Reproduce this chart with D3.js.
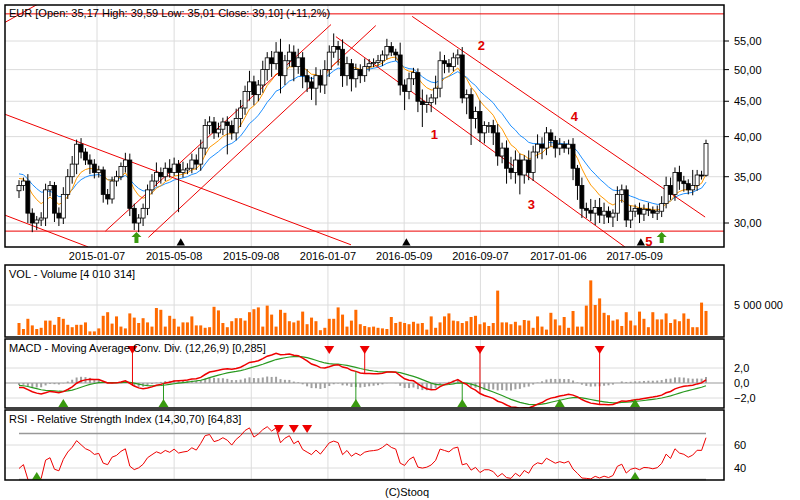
<!DOCTYPE html>
<html>
<head>
<meta charset="utf-8">
<script src="https://cdn.jsdelivr.net/npm/d3@7"></script>
<style>
body { margin: 0; background: #fff; }
text { font-family: "Liberation Sans", Arial, sans-serif; font-size: 11px; }
</style>
</head>
<body>
<div class="draw"></div>
<script>
// weekly closes
const closes = [
  34.0, 34.5, 31.0, 30.0, 30.3, 30.5, 33.5, 34.0, 31.0, 30.5,
  33.0, 35.0, 36.5, 39.0, 38.0, 37.0, 36.5, 35.5, 35.8, 33.0,
  32.5, 34.5, 35.0, 36.2, 37.0, 31.5, 30.0, 30.5, 31.5, 33.5,
  34.5, 35.5, 35.0, 36.0, 35.5, 36.5, 35.5, 35.8, 36.0, 37.0,
  36.5, 38.5, 41.5, 42.0, 40.5, 41.0, 42.0, 41.5, 40.5, 42.5,
  44.0, 46.5, 48.0, 46.0, 47.5, 50.0, 52.0, 51.0, 53.0, 49.0,
  51.5, 53.0, 50.5, 52.0, 49.0, 48.0, 47.0, 49.0, 47.5, 50.0,
  53.0, 54.0, 53.5, 49.0, 51.0, 48.5, 50.0, 49.0, 50.5, 51.0,
  51.2, 51.5, 52.5, 54.0, 53.0, 52.5, 47.5, 46.5, 48.5, 49.5,
  45.0, 44.5, 44.8, 45.5, 47.0, 51.5, 51.0, 50.5, 52.0, 52.5,
  45.5, 46.0, 42.5, 43.5, 40.5, 41.5, 41.5, 40.5, 37.5, 38.5,
  36.0, 35.5, 37.0, 35.2, 37.0, 35.5, 38.0, 39.0, 38.5, 40.5,
  39.5, 38.5, 39.0, 38.5, 39.0, 36.0, 34.0, 31.5, 31.3, 31.0,
  31.6, 30.8, 31.2, 30.6, 31.0, 33.0, 33.5, 30.3, 31.2, 31.5,
  30.9, 31.4, 31.3, 31.0, 31.2, 32.0, 34.0, 33.0, 35.5, 34.5,
  34.2, 33.5, 34.0, 35.2, 35.17, 39.1
];
const wickUp = [
  0.6, 0.4, 0.8, 0.5, 0.4, 0.6, 0.7, 0.5, 0.4, 0.6,
  0.8, 0.9, 1.0, 0.6, 0.8, 0.5, 0.7, 0.6, 0.5, 0.4,
  0.6, 0.5, 0.7, 0.5, 0.9, 0.8, 0.5, 0.4, 0.5, 0.6,
  0.8, 1.2, 0.6, 0.7, 1.1, 0.8, 0.5, 1.0, 0.6, 0.8,
  0.7, 1.1, 0.9, 0.8, 0.7, 0.9, 0.6, 0.8, 0.7, 1.4,
  1.2, 0.9, 1.8, 1.0, 0.8, 1.5, 1.0, 1.2, 1.8, 2.4,
  1.0, 1.4, 1.2, 1.6, 1.0, 1.1, 0.8, 1.4, 1.0, 1.6,
  1.2, 2.4, 1.0, 1.8, 1.2, 0.8, 1.0, 0.9, 1.4, 0.8,
  0.7, 1.0, 0.8, 1.4, 0.8, 0.6, 2.2, 0.9, 1.0, 0.8,
  0.7, 1.8, 1.2, 0.6, 2.0, 1.6, 1.0, 0.8, 0.9, 1.0,
  1.4, 0.8, 1.0, 0.7, 1.6, 0.6, 0.5, 0.8, 1.2, 0.7,
  1.0, 1.4, 1.2, 0.8, 0.6, 1.2, 0.8, 1.3, 0.9, 0.8,
  0.5, 0.6, 0.8, 0.4, 0.6, 0.8, 0.4, 0.9, 0.6, 1.2,
  0.8, 1.0, 0.9, 0.5, 0.4, 0.9, 0.6, 0.5, 0.6, 0.4,
  0.6, 0.5, 0.7, 0.4, 0.6, 0.8, 1.0, 0.9, 0.6, 0.8,
  0.6, 0.5, 1.8, 0.6, 0.5, 0.49
];
const wickDn = [
  0.8, 0.6, 1.0, 0.9, 0.7, 0.6, 0.8, 0.7, 0.9, 0.8,
  0.6, 0.5, 0.8, 1.2, 0.8, 0.6, 1.2, 0.7, 0.6, 0.9,
  0.6, 0.5, 0.6, 0.4, 0.7, 0.8, 0.7, 0.9, 0.8, 0.7,
  0.5, 0.6, 0.8, 0.5, 0.6, 0.4, 4.4, 0.6, 0.5, 0.6,
  0.7, 0.8, 0.9, 1.2, 0.8, 0.6, 0.8, 3.8, 0.9, 1.0,
  1.2, 1.0, 1.4, 1.6, 1.0, 1.2, 1.8, 2.2, 1.0, 2.8,
  1.5, 1.0, 2.4, 1.2, 2.0, 1.6, 1.8, 2.6, 1.2, 1.4,
  1.2, 1.0, 2.8, 1.8, 1.6, 2.0, 1.4, 1.2, 1.0, 0.8,
  0.6, 0.7, 0.9, 0.8, 0.7, 1.0, 1.6, 2.8, 1.2, 1.0,
  1.6, 3.2, 1.2, 1.4, 1.0, 1.4, 1.6, 1.0, 0.8, 1.2,
  0.8, 2.4, 3.6, 1.4, 1.2, 1.4, 1.0, 1.6, 1.2, 0.9,
  1.8, 0.8, 1.3, 2.2, 1.0, 0.9, 1.0, 0.8, 1.4, 0.9,
  0.8, 1.2, 0.9, 0.6, 0.8, 1.4, 1.6, 1.0, 0.8, 0.8,
  1.2, 0.8, 0.9, 0.6, 1.0, 0.8, 0.9, 0.7, 0.8, 0.6,
  0.9, 0.7, 0.6, 0.5, 0.7, 0.6, 0.5, 0.6, 0.7, 1.0,
  0.9, 0.5, 0.6, 0.6, 0.5, 0.16
];
const volumes = [
  2.0, 1.0, 2.7, 1.6, 1.0, 1.2, 2.4, 2.4, 1.7, 3.0,
  2.7, 1.7, 1.3, 1.7, 1.7, 2.1, 0.6, 0.6, 1.1, 3.2,
  3.8, 1.9, 3.1, 1.4, 1.1, 3.6, 2.9, 2.0, 2.8, 2.1,
  1.4, 4.5, 4.2, 1.4, 3.2, 2.7, 1.4, 2.1, 2.1, 3.1,
  1.6, 1.6, 1.2, 1.3, 4.7, 4.1, 2.0, 1.3, 2.3, 2.8,
  2.8, 2.4, 3.8, 4.3, 4.6, 1.4, 4.9, 3.4, 1.4, 4.2,
  3.7, 2.3, 2.1, 2.4, 3.9, 1.8, 2.9, 2.3, 0.8, 1.2,
  2.7, 2.7, 4.6, 3.4, 1.4, 2.4, 4.2, 1.8, 1.5, 1.3,
  1.4, 1.2, 1.1, 1.0, 3.0, 2.0, 2.2, 2.0, 1.8, 2.2,
  1.9, 2.0, 0.9, 3.1, 1.2, 2.1, 3.1, 3.6, 2.4, 2.3,
  2.0, 2.3, 3.0, 3.2, 1.8, 2.1, 1.5, 2.0, 7.4, 2.1,
  2.1, 1.8, 2.2, 1.6, 2.5, 2.4, 1.2, 3.1, 1.4, 0.9,
  3.7, 2.6, 1.6, 3.0, 1.2, 4.0, 1.4, 1.4, 4.9, 9.1,
  5.0, 6.1, 3.7, 3.3, 2.4, 2.6, 1.5, 3.8, 2.4, 1.6,
  3.9, 2.7, 1.3, 3.8, 2.6, 2.6, 3.6, 2.0, 2.6, 2.3,
  3.6, 2.7, 1.3, 1.3, 5.4, 4.01
];
// closes before the first drawn week, only used to seed the indicators
const priorCloses = [36.5, 37.0, 36.8, 36.2, 35.8, 35.5, 35.0, 34.6, 34.2, 34.0];
const dateTicks = ["2015-01-07", "2015-05-08", "2015-09-08", "2016-01-07", "2016-05-09", "2016-09-07", "2017-01-06", "2017-05-09"];
const dateTickIdx = [17.6, 35, 52.4, 69.7, 86.9, 104.1, 121.7, 138.9];
const priceTicks = [30, 35, 40, 45, 50, 55];

// trend lines [idx0, price0, idx1, price1]
const trendLines = [
  [-4, 60.2, 160, 60.2], [-4, 29.2, 160, 29.2],
  [-3.2, 43.1, 74.9, 27.9], [-3.2, 30.8, 15.6, 27.7], [-3.2, 58.5, 4.3, 62.2],
  [19.5, 29.2, 70.4, 58.1], [29.2, 28.6, 80.5, 57.9],
  [71.5, 55.8, 136.7, 27.7], [88.7, 59.7, 154.8, 30.6]
];
const waveLabels = ["1", "2", "3", "4", "5"];
const waveIdx = [93.7, 104.3, 115.6, 125.3, 142.1];
const wavePrice = [40.3, 54.3, 32.0, 42.8, 28.3];
const blackMarks = [36.5, 87.4, 140.3];
const greenArrows = [26.5, 145];
const macdSell = [25.6, 70, 78, 104, 131];
const macdSellLine = [true, false, true, true, true];
const macdBuy = [10, 32.6, 76, 100, 122, 139];
const macdBuyLine = [false, true, true, true, false, false];
const rsiSell = [58.6, 62, 65];
const rsiBuy = [4, 139];

const width = 800, height = 500;
const left = 5, right = 724;
const svg = d3.select("div.draw").append("svg").attr("width", width).attr("height", height);

const x = d3.scaleLinear().domain([0, closes.length - 1]).range([19, 706]);
const opens = closes.map((c, i) => i === 0 ? 33.4 : closes[i - 1]);
opens[closes.length - 1] = 35.17;
const full = priorCloses.concat(closes);
const skip = priorCloses.length;

function ema(arr, n) {
  const k = 2 / (n + 1); let out = []; let prev = arr[0];
  arr.forEach((v, i) => { prev = i === 0 ? v : v * k + prev * (1 - k); out.push(prev) });
  return out;
}

function panel(top, bottom) {
  const g = svg.append("g");
  g.append("clipPath").attr("id", "c" + top).append("rect")
    .attr("x", left).attr("y", top).attr("width", right - left).attr("height", bottom - top);
  dateTickIdx.forEach(t => g.append("line").attr("x1", x(t)).attr("x2", x(t))
    .attr("y1", top).attr("y2", bottom).attr("stroke", "#dcdcdc"));
  return g;
}
function frame(top, bottom, title) {
  svg.append("rect").attr("x", left).attr("y", top).attr("width", right - left).attr("height", bottom - top)
    .attr("fill", "none").attr("stroke", "#000").attr("stroke-width", 1.5);
  if (title) svg.append("text").attr("x", 9).attr("y", top + 13).text(title);
}

// ---------- price panel
const pTop = 5, pBot = 247;
const y = d3.scaleLog().domain([30, 55]).range([223, 41]);
const gp = panel(pTop, pBot);
priceTicks.forEach(p => {
  gp.append("line").attr("x1", left).attr("x2", right).attr("y1", y(p)).attr("y2", y(p)).attr("stroke", "#dcdcdc");
  svg.append("line").attr("x1", right).attr("x2", right + 5).attr("y1", y(p)).attr("y2", y(p)).attr("stroke", "#000");
  svg.append("text").attr("x", 734).attr("y", y(p) + 4).text(d3.format(".2f")(p).replace(".", ","));
});
const clipP = gp.append("g").attr("clip-path", "url(#c" + pTop + ")");
const maLine = d3.line().x((d, i) => x(i)).y(d => y(d));
clipP.append("path").attr("d", maLine(ema(full, 15).slice(skip))).attr("fill", "none").attr("stroke", "#1e90ff");
clipP.append("path").attr("d", maLine(ema(full, 8).slice(skip))).attr("fill", "none").attr("stroke", "#ff9900");
trendLines.forEach(l => clipP.append("line").attr("x1", x(l[0])).attr("y1", y(l[1]))
  .attr("x2", x(l[2])).attr("y2", y(l[3])).attr("stroke", "#ee0000"));
closes.forEach((c, i) => {
  const o = opens[i], hi = Math.max(o, c) + wickUp[i], lo = Math.min(o, c) - wickDn[i];
  clipP.append("line").attr("x1", x(i)).attr("x2", x(i)).attr("y1", y(hi)).attr("y2", y(lo)).attr("stroke", "#000");
  const top = Math.min(y(o), y(c)), h = Math.max(1, Math.abs(y(o) - y(c)));
  clipP.append("rect").attr("x", x(i) - 2).attr("y", top).attr("width", 4).attr("height", h)
    .attr("fill", c >= o ? "#fff" : "#000").attr("stroke", "#000").attr("stroke-width", 0.8);
});
waveLabels.forEach((t, i) => svg.append("text").attr("x", x(waveIdx[i])).attr("y", y(wavePrice[i]) + 5)
  .attr("text-anchor", "middle").attr("fill", "#e00000").style("font-weight", "bold").style("font-size", "13px").text(t));
blackMarks.forEach(b => svg.append("path").attr("d", d3.symbol(d3.symbolTriangle, 30)())
  .attr("transform", `translate(${x(b)},${pBot - 4})`).attr("fill", "#000"));
greenArrows.forEach(b => svg.append("path")
  .attr("d", "M0,-6 L5,-1 L2,-1 L2,5 L-2,5 L-2,-1 L-5,-1 Z")
  .attr("transform", `translate(${x(b)},${pBot - 9})`).attr("fill", "#3a9a10"));
svg.append("text").attr("x", 9).attr("y", 17).text("EUR [Open: 35,17 High: 39,59 Low: 35,01 Close: 39,10] (+11,2%)");
frame(pTop, pBot);
dateTicks.forEach((t, i) => svg.append("text").attr("x", x(dateTickIdx[i])).attr("y", 260)
  .attr("text-anchor", "middle").text(t));

// ---------- volume
const vTop = 265, vBot = 337;
const yv = d3.scaleLinear().domain([0, 5]).range([335, 305]);
const gv = panel(vTop, vBot);
gv.append("line").attr("x1", left).attr("x2", right).attr("y1", yv(5)).attr("y2", yv(5)).attr("stroke", "#dcdcdc");
svg.append("text").attr("x", 734).attr("y", yv(5) + 4).text("5 000 000");
volumes.forEach((v, i) => gv.append("rect").attr("x", x(i) - 1.5).attr("y", yv(v)).attr("width", 3)
  .attr("height", yv(0) - yv(v)).attr("fill", "#ff6a00"));
frame(vTop, vBot, "VOL - Volume [4 010 314]");

// ---------- MACD
const mTop = 339, mBot = 408;
const ym = d3.scaleLinear().domain([-2, 2]).range([398, 368]);
const e12 = ema(full, 12), e26 = ema(full, 26);
const macdFull = e12.map((v, i) => v - e26[i]);
const macd = macdFull.slice(skip);
const sig = ema(macdFull, 9).slice(skip);
const gm = panel(mTop, mBot);
[-2, 0, 2].forEach(v => {
  gm.append("line").attr("x1", left).attr("x2", right).attr("y1", ym(v)).attr("y2", ym(v))
    .attr("stroke", v === 0 ? "#999" : "#dcdcdc");
  svg.append("text").attr("x", 734).attr("y", ym(v) + 4).text(d3.format(".1f")(v).replace(".", ","));
});
const cm = gm.append("g").attr("clip-path", "url(#c" + mTop + ")");
macd.forEach((m, i) => {
  const d = m - sig[i];
  cm.append("rect").attr("x", x(i) - 1).attr("y", Math.min(ym(0), ym(d))).attr("width", 2)
    .attr("height", Math.abs(ym(d) - ym(0))).attr("fill", "#a0a0a0");
});
const ml = d3.line().x((d, i) => x(i)).y(d => ym(d));
cm.append("path").attr("d", ml(sig)).attr("fill", "none").attr("stroke", "#2a9a20").attr("stroke-width", 1.2);
cm.append("path").attr("d", ml(macd)).attr("fill", "none").attr("stroke", "#ee0000").attr("stroke-width", 1.5);
const at = (arr, t) => arr[Math.round(t)];
macdSell.forEach((s, i) => {
  if (macdSellLine[i]) cm.append("line").attr("x1", x(s)).attr("x2", x(s)).attr("y1", 352).attr("y2", ym(at(macd, s))).attr("stroke", "#ee0000");
  svg.append("path").attr("d", "M-5,0 L5,0 L0,8 Z").attr("transform", `translate(${x(s)},346)`).attr("fill", "#ee0000");
});
macdBuy.forEach((s, i) => {
  if (macdBuyLine[i]) cm.append("line").attr("x1", x(s)).attr("x2", x(s)).attr("y1", 402).attr("y2", ym(at(macd, s))).attr("stroke", "#2a9a20");
  svg.append("path").attr("d", "M-5,0 L5,0 L0,-8 Z").attr("transform", `translate(${x(s)},407)`).attr("fill", "#3a9a10");
});
frame(mTop, mBot, "MACD - Moving Average Conv. Div. (12,26,9) [0,285]");

// ---------- RSI
const rTop = 410, rBot = 480;
const yr = d3.scaleLinear().domain([40, 60]).range([468, 445]);
let rsiFull = [], ag = 0, al = 0;
full.forEach((c, i) => {
  const ch = i === 0 ? 0 : c - full[i - 1];
  const g = Math.max(ch, 0), l = Math.max(-ch, 0);
  if (i === 0) { ag = 0.5; al = 0.5 } else { ag = (ag * 13 + g) / 14; al = (al * 13 + l) / 14 }
  rsiFull.push(100 - 100 / (1 + ag / al));
});
const rsi = rsiFull.slice(skip);
const gr = panel(rTop, rBot);
[40, 60].forEach(v => {
  gr.append("line").attr("x1", left).attr("x2", right).attr("y1", yr(v)).attr("y2", yr(v)).attr("stroke", "#dcdcdc");
  svg.append("text").attr("x", 734).attr("y", yr(v) + 4).text(v);
});
[30, 70].forEach(v => gr.append("line").attr("x1", x(0)).attr("x2", x(closes.length - 1))
  .attr("y1", yr(v)).attr("y2", yr(v)).attr("stroke", "#999").attr("stroke-width", 1.5));
const cr = gr.append("g").attr("clip-path", "url(#c" + rTop + ")");
cr.append("path").attr("d", d3.line().x((d, i) => x(i)).y(d => yr(d))(rsi))
  .attr("fill", "none").attr("stroke", "#ee0000");
rsiSell.forEach(s => svg.append("path").attr("d", "M-5,0 L5,0 L0,8 Z")
  .attr("transform", `translate(${x(s)},425)`).attr("fill", "#ee0000"));
rsiBuy.forEach(s => svg.append("path").attr("d", "M-5,0 L5,0 L0,-8 Z")
  .attr("transform", `translate(${x(s)},480)`).attr("fill", "#3a9a10"));
frame(rTop, rBot, "RSI - Relative Strength Index (14,30,70) [64,83]");

svg.append("text").attr("x", 407).attr("y", 496).attr("text-anchor", "middle").text("(C)Stooq");
</script>
</body>
</html>
